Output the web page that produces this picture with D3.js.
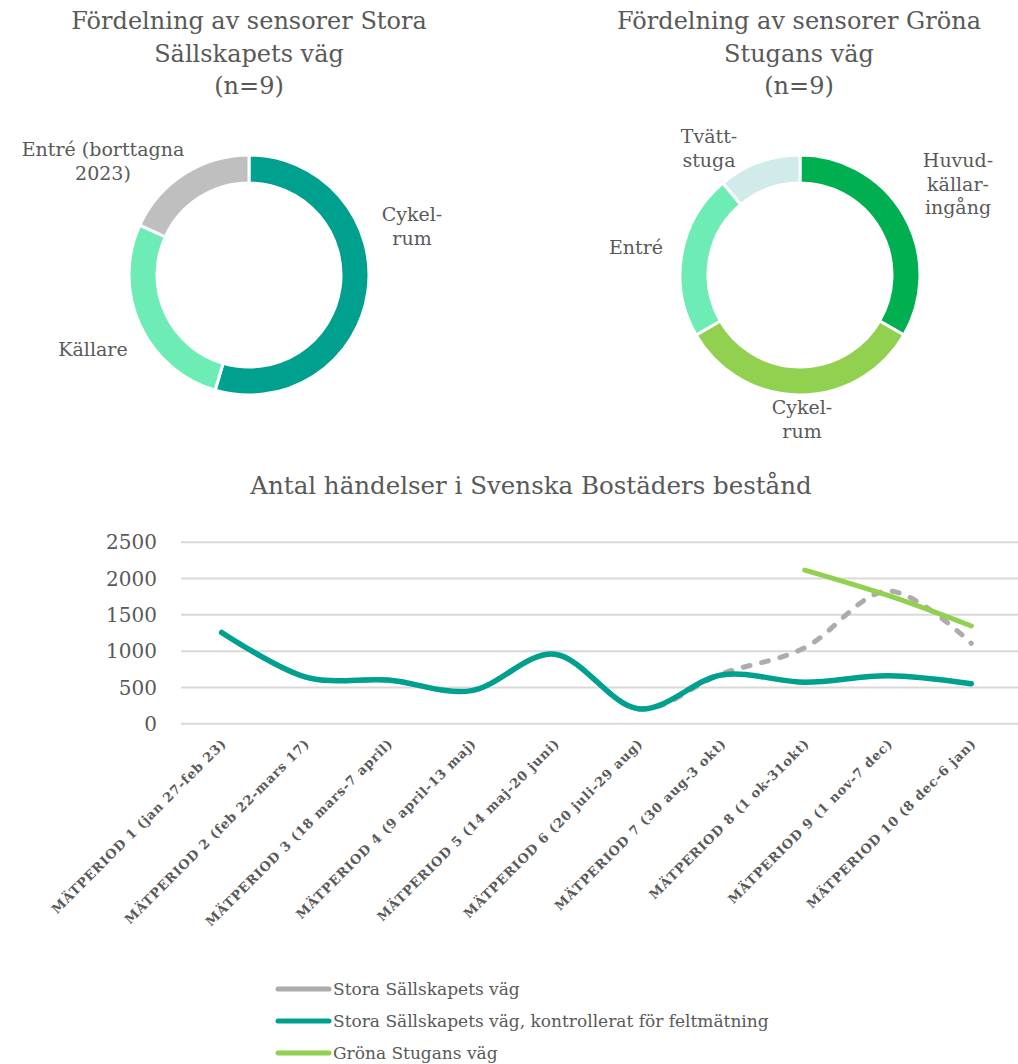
<!DOCTYPE html>
<html><head><meta charset="utf-8">
<script src="https://cdn.jsdelivr.net/npm/d3@7"></script>
<style>
html,body{margin:0;padding:0;background:#fff;}
svg{display:block;}
svg text{font-family:"DejaVu Serif",serif;}
</style></head>
<body><svg id="c" width="1018" height="1064"></svg>
<script>
// ---- data ----
const donut1Title = ["Fördelning av sensorer Stora", "Sällskapets väg", "(n=9)"];
const donut1Labels = ["Cykelrum", "Källare", "Entré (borttagna 2023)"];
const donut1Values = [6, 3, 2];
const donut1Colors = ["#00A08E", "#6EECB5", "#BFBFBF"];

const donut2Title = ["Fördelning av sensorer Gröna", "Stugans väg", "(n=9)"];
const donut2Labels = ["Huvudkällaringång", "Cykelrum", "Entré", "Tvättstuga"];
const donut2Values = [3, 3, 2, 1];
const donut2Colors = ["#00B050", "#92D050", "#6EECB5", "#D1EBEA"];

const lineTitle = "Antal händelser i Svenska Bostäders bestånd";
const periods = [
  "MÄTPERIOD 1 (jan 27-feb 23)",
  "MÄTPERIOD 2 (feb 22-mars 17)",
  "MÄTPERIOD 3 (18 mars-7 april)",
  "MÄTPERIOD 4 (9 april-13 maj)",
  "MÄTPERIOD 5 (14 maj-20 juni)",
  "MÄTPERIOD 6 (20 juli-29 aug)",
  "MÄTPERIOD 7 (30 aug-3 okt)",
  "MÄTPERIOD 8 (1 ok-31okt)",
  "MÄTPERIOD 9 (1 nov-7 dec)",
  "MÄTPERIOD 10 (8 dec-6 jan)"
];
const storaValues      = [1250, 640, 595, 450, 950, 200, 680, 1040, 1820, 1100];
const storaKontroll    = [1250, 640, 595, 450, 950, 200, 665, 565, 655, 545];
const gronaValues      = [null, null, null, null, null, null, null, 2110, 1760, 1340];
const yTicks = [0, 500, 1000, 1500, 2000, 2500];
const seriesNames = ["Stora Sällskapets väg", "Stora Sällskapets väg, kontrollerat för feltmätning", "Gröna Stugans väg"];
const seriesColors = ["#AEABAB", "#00A08E", "#92D050"];

// ---- drawing ----
const svg = d3.select("#c");
const textColor = "#595959";

function multiLine(g, lines, x, y, lh, size, anchor) {
  const t = g.append("text").attr("x", x).attr("y", y)
    .attr("text-anchor", anchor || "middle").attr("font-size", size).attr("fill", textColor);
  lines.forEach((l, i) => t.append("tspan").attr("x", x).attr("dy", i === 0 ? 0 : lh).text(l));
  return t;
}

function donut(cx, cy, values, colors, title, titleX, labelSpecs) {
  const g = svg.append("g");
  multiLine(g, title, titleX, 29, 32.5, 24);
  const pie = d3.pie().sort(null).value(d => d);
  const arc = d3.arc().innerRadius(92).outerRadius(120);
  g.append("g").attr("transform", `translate(${cx},${cy})`)
    .selectAll("path").data(pie(values)).join("path")
    .attr("d", arc).attr("fill", (d, i) => colors[i])
    .attr("stroke", "#fff").attr("stroke-width", 3);
  labelSpecs.forEach(s => multiLine(g, s.lines, s.x, s.y, 23.5, 19));
}

donut(249, 275, donut1Values, donut1Colors, donut1Title, 249, [
  {lines: ["Cykel-", "rum"], x: 412, y: 221},
  {lines: ["Entré (borttagna", "2023)"], x: 103, y: 156},
  {lines: ["Källare"], x: 93, y: 356}
]);
donut(800, 275, donut2Values, donut2Colors, donut2Title, 799, [
  {lines: ["Huvud-", "källar-", "ingång"], x: 958, y: 167},
  {lines: ["Cykel-", "rum"], x: 802, y: 414},
  {lines: ["Entré"], x: 636, y: 254},
  {lines: ["Tvätt-", "stuga"], x: 709, y: 143}
]);

// line chart
const x = d3.scalePoint().domain(periods).range([180, 1013]).padding(0.5);
const y = d3.scaleLinear().domain([0, 2500]).range([723.3, 541.7]);

svg.append("text").attr("x", 531).attr("y", 494).attr("text-anchor", "middle")
  .attr("font-size", 24.5).attr("fill", textColor).text(lineTitle);

const grid = svg.append("g")
  .call(d3.axisLeft(y).tickValues(yTicks).tickSize(-(1018 - 181)).tickFormat(d3.format("d")))
  .attr("transform", "translate(181,0)");
grid.select(".domain").remove();
grid.selectAll(".tick line").attr("stroke", "#D9D9D9").attr("stroke-width", 2);
grid.selectAll(".tick text").attr("x", -24).attr("font-size", 20).attr("fill", textColor)
  .attr("dy", "0.36em");

const xa = svg.append("g").attr("transform", "translate(0,723.3)")
  .call(d3.axisBottom(x).tickSize(0));
xa.select(".domain").remove();
xa.selectAll(".tick text")
  .attr("font-size", 13).attr("font-weight", "bold")
  .attr("letter-spacing", "0.8px")
  .attr("fill", textColor).attr("text-anchor", "end")
  .attr("y", 0).attr("dy", 0)
  .attr("transform", "translate(5,21) rotate(-45)");

const curve = d3.curveCardinal.tension(0);
function drawSeries(vals, color, width, dash) {
  const line = d3.line().defined(d => d != null)
    .x((d, i) => x(periods[i])).y(d => y(d)).curve(curve);
  const p = svg.append("path").attr("d", line(vals))
    .attr("fill", "none").attr("stroke", color).attr("stroke-width", width)
    .attr("stroke-linecap", "round").attr("stroke-linejoin", "round");
  if (dash) p.attr("stroke-dasharray", dash);
}
drawSeries(storaValues, seriesColors[0], 5, "7,12");
drawSeries(storaKontroll, seriesColors[1], 5.5);
drawSeries(gronaValues, seriesColors[2], 5);

// legend
const lg = svg.append("g");
seriesNames.forEach((n, i) => {
  const yy = 989 + i * 32;
  lg.append("line").attr("x1", 278).attr("x2", 329).attr("y1", yy).attr("y2", yy)
    .attr("stroke", seriesColors[i]).attr("stroke-width", 5).attr("stroke-linecap", "round");
  lg.append("text").attr("x", 333).attr("y", yy + 6).attr("font-size", 17)
    .attr("fill", textColor).text(n);
});
</script></body></html>
